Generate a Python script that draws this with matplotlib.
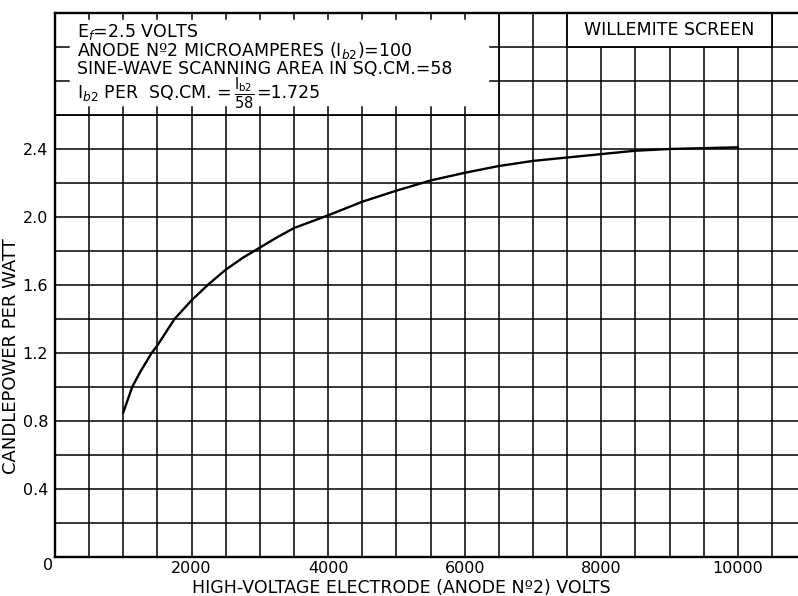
import matplotlib
matplotlib.use("Agg")
import matplotlib.pyplot as plt
from matplotlib.patches import Rectangle
from matplotlib.ticker import MultipleLocator

# curve
volts = [1000, 1130, 1250, 1415, 1500, 1750, 2000, 2250, 2500, 2750, 3000,
         3250, 3500, 4000, 4500, 5000, 5500, 6000, 6500, 7000, 7500, 8000,
         8500, 9000, 9500, 10000]
cp_per_watt = [0.85, 1.0, 1.09, 1.2, 1.245, 1.40, 1.51, 1.605, 1.69, 1.76, 1.82,
               1.88, 1.935, 2.01, 2.09, 2.155, 2.215, 2.26, 2.30, 2.33, 2.35, 2.37,
               2.39, 2.40, 2.405, 2.41]

x_ticks = [2000, 4000, 6000, 8000, 10000]
y_ticks = [0.4, 0.8, 1.2, 1.6, 2.0, 2.4]

info_lines = [
    r"E$_f$=2.5 VOLTS",
    r"ANODE Nº2 MICROAMPERES (I$_{b2}$)=100",
    r"SINE-WAVE SCANNING AREA IN SQ.CM.=58",
]
density_lead = r"I$_{b2}$ PER  SQ.CM. ="
density_frac = r"$\dfrac{\mathrm{I_{b2}}}{\mathrm{58}}$"
density_value = "=1.725"
screen_label = "WILLEMITE SCREEN"

plt.rcParams["font.family"] = ["DejaVu Sans"]
plt.rcParams["mathtext.fontset"] = "dejavusans"

fig = plt.figure(figsize=(7.98, 5.96), dpi=100)
ax = fig.add_axes([55 / 798, 39 / 596, 743 / 798, 544 / 596])

ax.set_xlim(0, 10880)
ax.set_ylim(0, 3.2)

ax.xaxis.set_minor_locator(MultipleLocator(500))
ax.yaxis.set_minor_locator(MultipleLocator(0.2))
ax.set_xticks(x_ticks)
ax.set_xticklabels([str(v) for v in x_ticks])
ax.set_yticks(y_ticks)
ax.set_yticklabels([f"{v:.1f}" for v in y_ticks])
ax.tick_params(which="both", length=0, labelsize=11.5)
ax.tick_params(axis="x", pad=3)
ax.tick_params(axis="y", pad=5)
ax.grid(which="both", color="black", linewidth=1.1)

for side in ["left", "bottom", "top"]:
    ax.spines[side].set_linewidth(1.7)
ax.spines["right"].set_visible(False)

ax.annotate("0", (0, 0), xytext=(-1, -1), textcoords="offset points",
            ha="right", va="top", fontsize=11.5)

# info box in the upper left
ax.add_patch(Rectangle((0, 2.6), 6500, 0.6, facecolor="white",
                       edgecolor="black", linewidth=1.3, zorder=2))
for xv in range(500, 6500, 500):
    ax.plot([xv, xv], [3.2, 3.2 - 0.036], color="black", lw=1.1, zorder=3)
    ax.plot([xv, xv], [2.6, 2.6 + 0.045], color="black", lw=1.1, zorder=3)
for yv in [2.8, 3.0]:
    ax.plot([0, 200], [yv, yv], color="black", lw=1.1, zorder=3)
    ax.plot([6370, 6500], [yv, yv], color="black", lw=1.1, zorder=3)

baselines = [3.06, 2.945, 2.84]
for txt, yb in zip(info_lines, baselines):
    ax.text(322, yb, txt, fontsize=12.5, va="baseline", ha="left", zorder=4)

lead = ax.text(322, 2.70, density_lead, fontsize=12.5, va="baseline",
               ha="left", zorder=4)
frac = ax.annotate(density_frac, xy=(1, 2.73), xycoords=(lead, "data"),
                   xytext=(2, 0), textcoords="offset points",
                   fontsize=10.5, ha="left", va="center", zorder=4)
ax.annotate(density_value, xy=(1, 2.70), xycoords=(frac, "data"),
            xytext=(1, 0), textcoords="offset points",
            fontsize=12.5, ha="left", va="baseline", zorder=4)

# screen label box
ax.add_patch(Rectangle((7500, 3.0), 3000, 0.2, facecolor="white",
                       edgecolor="black", linewidth=1.3, zorder=2))
ax.text(9000, 3.1, screen_label, fontsize=12.5, ha="center", va="center", zorder=4)

ax.plot(volts, cp_per_watt, color="black", linewidth=1.7, zorder=5,
        solid_joinstyle="round")

ax.set_xlabel("HIGH-VOLTAGE ELECTRODE (ANODE Nº2) VOLTS", fontsize=12.5)
ax.xaxis.set_label_coords(0.466, -0.04)
ax.set_ylabel("CANDLEPOWER PER WATT", fontsize=13)
ax.yaxis.set_label_coords(-0.047, 0.37)

fig.savefig("out.png", dpi=100, facecolor="white")
